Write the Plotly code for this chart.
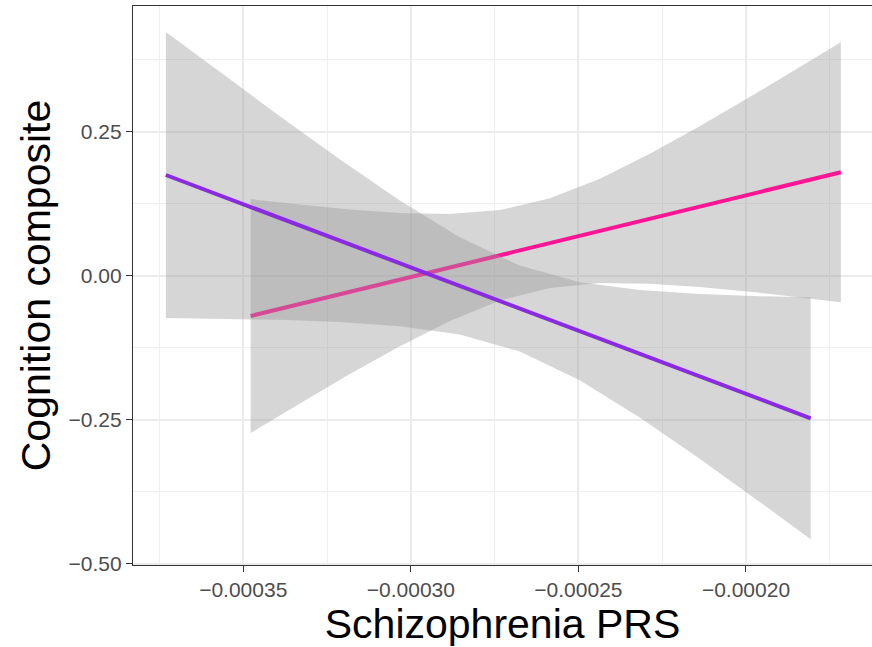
import plotly.graph_objects as go

# Pink group (positive slope)
pink_x = [-0.0003478, -0.0003331, -0.0003182, -0.0003033, -0.0002883, -0.0002734, -0.0002585,
          -0.0002436, -0.0002287, -0.0002138, -0.0001989, -0.0001839, -0.0001717]
pink_fit = [-0.0703, -0.0495, -0.0283, -0.0071, 0.0139, 0.0351, 0.0563,
            0.0774, 0.0986, 0.1196, 0.1408, 0.1620, 0.1793]
pink_upper = [0.1328, 0.1231, 0.1146, 0.1085, 0.1068, 0.1137, 0.1340,
              0.1681, 0.2113, 0.2590, 0.3097, 0.3618, 0.4050]
pink_lower = [-0.2734, -0.2220, -0.1712, -0.1227, -0.0790, -0.0436, -0.0215,
              -0.0132, -0.0141, -0.0198, -0.0281, -0.0378, -0.0464]

# Purple group (negative slope)
purple_x = [-0.0003731, -0.0003570, -0.0003391, -0.0003212, -0.0003033, -0.0002854,
            -0.0002675, -0.0002496, -0.0002317, -0.0002138, -0.0001959, -0.0001807]
purple_fit = [0.1745, 0.1391, 0.0998, 0.0606, 0.0212, -0.0181,
              -0.0573, -0.0967, -0.1359, -0.1752, -0.2146, -0.2479]
purple_upper = [0.4227, 0.3530, 0.2766, 0.2019, 0.1304, 0.0663,
                0.0174, -0.0115, -0.0253, -0.0323, -0.0361, -0.0378]
purple_lower = [-0.0738, -0.0748, -0.0769, -0.0807, -0.0880, -0.1024,
                -0.1319, -0.1819, -0.2465, -0.3181, -0.3931, -0.4580]

x_ticks = [-0.00035, -0.00030, -0.00025, -0.00020]
y_ticks = [-0.50, -0.25, 0.00, 0.25]

x_title = "Schizophrenia PRS"
y_title = "Cognition composite"

RIBBON = "rgba(153,153,153,0.4)"
FONT = "Liberation Sans, Arial, Helvetica, sans-serif"

fig = go.Figure()

def add_group(xs, fit, up, lo, color):
    fig.add_trace(go.Scatter(
        x=list(xs) + list(xs)[::-1],
        y=list(up) + list(lo)[::-1],
        fill="toself", fillcolor=RIBBON, line=dict(width=0),
        mode="lines", hoverinfo="skip", showlegend=False))
    fig.add_trace(go.Scatter(
        x=xs, y=fit, mode="lines", line=dict(color=color, width=4),
        showlegend=False))

add_group(pink_x, pink_fit, pink_upper, pink_lower, "#FF1493")
add_group(purple_x, purple_fit, purple_upper, purple_lower, "#8A2BE2")

axis_common = dict(
    showline=True, linecolor="#333333", linewidth=1.3,
    ticks="outside", ticklen=6, tickcolor="#333333", tickwidth=1.3,
    showgrid=True, gridcolor="#EBEBEB", gridwidth=1.6,
    zeroline=False,
    tickfont=dict(family=FONT, size=21, color="#4D4D4D"),
)

fig.update_layout(
    width=872, height=647,
    margin=dict(l=133, r=0, t=6, b=82),
    paper_bgcolor="white", plot_bgcolor="white",
    font=dict(family=FONT),
    xaxis=dict(
        range=[-0.0003829, -0.0001624],
        tickvals=x_ticks, tickformat=".5f",
        mirror=True,
        minor=dict(dtick=0.00005, tick0=-0.000375, showgrid=True,
                   gridcolor="#EEEEEE", gridwidth=1, ticks=""),
        title=dict(text=x_title, font=dict(family=FONT, size=41, color="black"),
                   standoff=3),
        automargin=False,
        **axis_common),
    yaxis=dict(
        range=[-0.5026, 0.4679],
        tickvals=y_ticks, tickformat=".2f",
        mirror=False,
        minor=dict(dtick=0.25, tick0=-0.375, showgrid=True,
                   gridcolor="#EEEEEE", gridwidth=1, ticks=""),
        title=dict(text=y_title, font=dict(family=FONT, size=41, color="black"),
                   standoff=5),
        automargin=False,
        **axis_common),
)

fig.write_html("out.html", config={"displayModeBar": False},
               post_script="document.body.style.margin='0';document.body.style.overflow='hidden';")
